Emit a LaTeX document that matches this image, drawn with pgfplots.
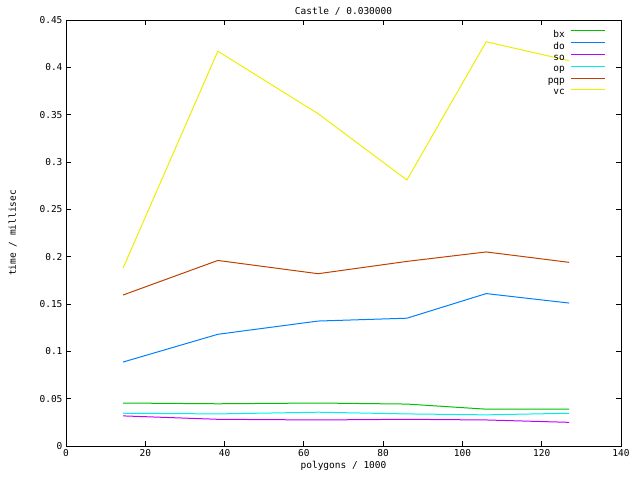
\documentclass[border=0pt]{standalone}
\usepackage{fontspec}
\setmainfont{DejaVu Sans Mono}
\usepackage{pgfplots}
\pgfplotsset{compat=1.18}
\definecolor{cbx}{HTML}{00C000}
\definecolor{cdo}{HTML}{0080FF}
\definecolor{cso}{HTML}{C000FF}
\definecolor{cop}{HTML}{00EEEE}
\definecolor{cpqp}{HTML}{C04000}
\definecolor{cvc}{HTML}{EEEE00}
\begin{document}
\begin{tikzpicture}[x=1pt,y=1pt]
\useasboundingbox (0,0) rectangle (640,480);
\begin{axis}[
  at={(66pt,34pt)}, anchor=south west,
  scale only axis, width=555pt, height=426pt,
  xmin=0, xmax=140, ymin=0, ymax=0.45,
  xtick={0,20,...,140},
  ytick={0,0.05,...,0.45},
  tick align=inside, major tick length=5pt,
  axis line style={line width=0.8pt},
  every tick/.style={line width=0.8pt, black},
  font=\fontsize{9.5}{11}\selectfont,
  /pgf/number format/assume math mode=true,
  yticklabel style={/pgf/number format/fixed, /pgf/number format/precision=2},
  title={Castle / 0.030000},
  title style={yshift=-5pt},
  xlabel={polygons / 1000},
  ylabel={time / millisec},
  xlabel style={yshift=2pt},
  ylabel style={yshift=16pt},
  legend style={draw=none, fill=none, at={(0.975,0.985)}, anchor=north east,
    legend cell align=right, row sep=0pt, inner sep=1pt,
    nodes={inner sep=1pt, minimum height=10pt},
    font=\fontsize{9.5}{11}\selectfont},
  legend plot pos=right,
  legend image code/.code={%
    \path[draw=none, fill=none] (0pt,0pt) rectangle (40pt,6.6pt);
    \draw[#1, line width=1pt] (5pt,3.3pt) -- (39pt,3.3pt);},
  every axis plot/.append style={line width=1pt},
]
\addplot[color=cbx] coordinates {(14.4,0.0454) (38.3,0.0446) (63.6,0.0454) (86,0.0443) (106,0.0389) (126.9,0.0389)};
\addplot[color=cdo] coordinates {(14.4,0.0887) (38.3,0.118) (63.6,0.132) (86,0.135) (106,0.161) (126.9,0.151)};
\addplot[color=cso] coordinates {(14.4,0.0318) (38.3,0.0282) (63.6,0.0275) (86,0.0282) (106,0.0275) (126.9,0.025)};
\addplot[color=cop] coordinates {(14.4,0.0346) (38.3,0.0339) (63.6,0.0357) (86,0.0339) (106,0.0329) (126.9,0.0346)};
\addplot[color=cpqp] coordinates {(14.4,0.1595) (38.3,0.196) (63.6,0.182) (86,0.195) (106,0.205) (126.9,0.194)};
\addplot[color=cvc] coordinates {(14.4,0.188) (38.3,0.417) (63.6,0.351) (86,0.281) (106,0.427) (126.9,0.407)};
\legend{bx,do,so,op,pqp,vc}
\end{axis}
\end{tikzpicture}
\end{document}
